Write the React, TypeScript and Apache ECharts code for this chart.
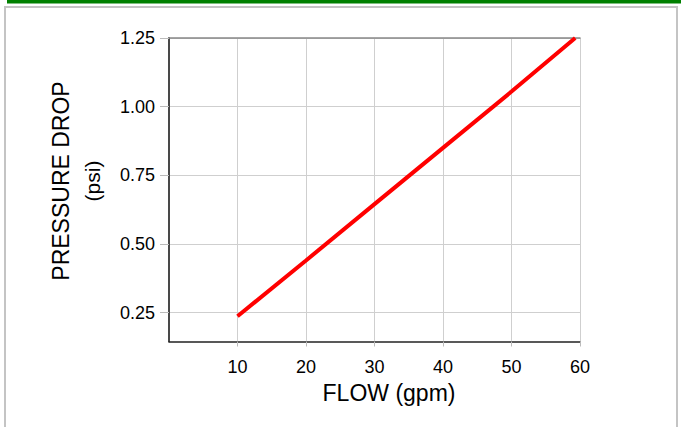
import React, { useEffect, useRef } from "react";
import * as echarts from "echarts";

const flowGpm = [10, 20, 30, 40, 50, 59.3];
const pressureDropPsi = [0.237, 0.44, 0.645, 0.85, 1.055, 1.25];
const xTicks = [10, 20, 30, 40, 50, 60];
const yTicks = [0.25, 0.5, 0.75, 1.0, 1.25];
const xTitle = "FLOW (gpm)";
const yTitle = "PRESSURE DROP";
const yUnit = "(psi)";

export default function App() {
  const ref = useRef<HTMLDivElement>(null);
  useEffect(() => {
    document.body.style.margin = "0";
    const chart = echarts.init(ref.current!, null, { renderer: "svg" });
    const font = "'Liberation Sans', Arial, Helvetica, sans-serif";
    chart.setOption({
      animation: false,
      backgroundColor: "#ffffff",
      textStyle: { fontFamily: font },
      grid: { left: 169, right: 101, top: 38, bottom: 85.5 },
      graphic: [
        { type: "rect", shape: { x: 7, y: 0, width: 674, height: 3.5 }, style: { fill: "#008000" } },
        { type: "rect", shape: { x: 5, y: 7, width: 672, height: 440 }, style: { fill: "none", stroke: "#c4c4c4", lineWidth: 2 } },
        {
          type: "text", x: 389, y: 393,
          style: { text: xTitle, font: `23px ${font}`, fill: "#000", align: "center", verticalAlign: "middle" },
        },
        {
          type: "text", x: 61, y: 181, rotation: Math.PI / 2,
          style: { text: yTitle, font: `23px ${font}`, fill: "#000", align: "center", verticalAlign: "middle" },
        },
        {
          type: "text", x: 92, y: 181, rotation: Math.PI / 2,
          style: { text: yUnit, font: `21px ${font}`, fill: "#000", align: "center", verticalAlign: "middle" },
        },
      ],
      xAxis: [
        {
          type: "value", min: 0, max: 60, interval: 10,
          axisLine: { show: true, onZero: false, lineStyle: { color: "#222", width: 1.5 } },
          axisTick: { show: true, length: 5, lineStyle: { color: "#bbb" }, customValues: xTicks },
          axisLabel: { customValues: xTicks, margin: 16, fontSize: 18, color: "#000", fontFamily: font },
          splitLine: { show: true, lineStyle: { color: "#cfcfcf", width: 1 } },
        },
        {
          type: "value", position: "top", min: 0, max: 60,
          axisLine: { show: true, lineStyle: { color: "#888", width: 1.5 } },
          axisTick: { show: false }, axisLabel: { show: false }, splitLine: { show: false },
        },
      ],
      yAxis: [
        {
          type: "value", min: 0.145, max: 1.25,
          axisLine: { show: true, onZero: false, lineStyle: { color: "#222", width: 1.5 } },
          axisTick: { show: true, length: 9, lineStyle: { color: "#bbb" }, customValues: yTicks },
          axisLabel: {
            customValues: yTicks, margin: 14, fontSize: 18, color: "#000", fontFamily: font,
            formatter: (v: number) => v.toFixed(2),
          },
          splitLine: { show: true, lineStyle: { color: "#cfcfcf", width: 1 } },
        },
        {
          type: "value", position: "right", min: 0.145, max: 1.25,
          axisLine: { show: true, lineStyle: { color: "#444", width: 1.5 } },
          axisTick: { show: false }, axisLabel: { show: false }, splitLine: { show: false },
        },
      ],
      series: [
        {
          type: "line",
          data: flowGpm.map((x, i) => [x, pressureDropPsi[i]]),
          showSymbol: false,
          lineStyle: { color: "#ff0000", width: 4 },
          z: 5,
        },
      ],
    });
    return () => chart.dispose();
  }, []);
  return <div ref={ref} style={{ position: "absolute", left: 0, top: 0, width: 681, height: 427 }} />;
}
